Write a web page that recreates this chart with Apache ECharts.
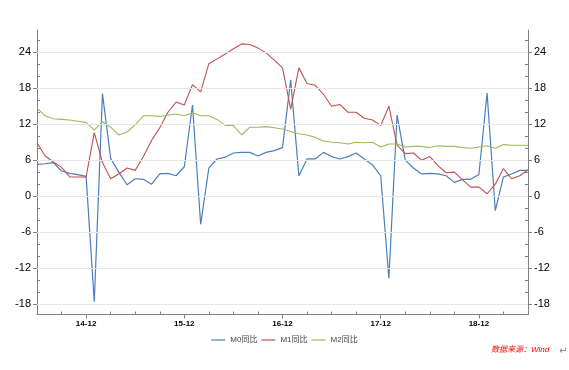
<!DOCTYPE html>
<html><head><meta charset="utf-8">
<script src="https://cdn.jsdelivr.net/npm/echarts@6/dist/echarts.min.js"></script>
<style>html,body{margin:0;padding:0;background:#fff}#c{width:569px;height:370px}</style>
</head><body><div id="c"></div>
<script>
var categories = ['14-06','14-07','14-08','14-09','14-10','14-11','14-12',
'15-01','15-02','15-03','15-04','15-05','15-06','15-07','15-08','15-09','15-10','15-11','15-12',
'16-01','16-02','16-03','16-04','16-05','16-06','16-07','16-08','16-09','16-10','16-11','16-12',
'17-01','17-02','17-03','17-04','17-05','17-06','17-07','17-08','17-09','17-10','17-11','17-12',
'18-01','18-02','18-03','18-04','18-05','18-06','18-07','18-08','18-09','18-10','18-11','18-12',
'19-01','19-02','19-03','19-04','19-05','19-06'];
var m0 = [5.3,5.4,5.6,4.2,3.8,3.6,3.3,
-17.6,17.1,6.3,4.0,1.9,2.9,2.8,2.0,3.7,3.8,3.4,4.9,
15.2,-4.7,4.7,6.2,6.5,7.2,7.3,7.3,6.7,7.3,7.6,8.1,
19.4,3.4,6.2,6.2,7.3,6.6,6.2,6.6,7.2,6.2,5.2,3.4,
-13.7,13.5,6.0,4.7,3.7,3.8,3.7,3.4,2.3,2.8,2.8,3.6,
17.2,-2.4,3.2,3.7,4.3,4.3];
var m1 = [8.9,6.7,5.7,4.8,3.2,3.2,3.2,
10.6,5.6,2.9,3.7,4.7,4.3,6.6,9.3,11.4,14.0,15.7,15.2,
18.6,17.4,22.1,22.9,23.7,24.6,25.4,25.3,24.7,23.9,22.7,21.4,
14.5,21.4,18.8,18.5,17.0,15.0,15.3,14.0,14.0,13.0,12.7,11.8,
15.0,8.5,7.1,7.2,6.0,6.6,5.1,3.9,4.0,2.7,1.5,1.5,
0.4,2.0,4.6,2.9,3.4,4.4];
var m2 = [14.7,13.4,12.9,12.8,12.7,12.5,12.3,
11.0,12.4,11.5,10.2,10.7,11.9,13.4,13.4,13.3,13.5,13.7,13.4,
13.9,13.4,13.4,12.8,11.8,11.8,10.2,11.5,11.5,11.6,11.4,11.2,
10.8,10.4,10.2,9.8,9.2,9.0,8.9,8.7,9.0,8.9,9.0,8.2,
8.7,8.7,8.2,8.3,8.3,8.1,8.4,8.3,8.3,8.1,8.0,8.2,
8.4,8.0,8.6,8.5,8.5,8.5];
var seriesNames = ['M0同比','M1同比','M2同比'];
var yTicks = [-18,-12,-6,0,6,12,18,24];
var yMinorTicks = [-16,-14,-10,-8,-4,-2,2,4,8,10,14,16,20,22,26];
var sourceText = '数据来源：Wind';

var YMIN = -19.75, YMAX = 27.72;
var axisColor = '#808080';
var font = 'Liberation Sans, Noto Sans CJK SC, sans-serif';
function majorX(i){ return i % 12 === 6; }
function minorX(i){ return i % 3 === 0 && i % 12 !== 6; }
function yAx(pos, labels){
  return {
    type:'value', position:pos, min:YMIN, max:YMAX,
    axisLine:{show:labels, onZero:false, lineStyle:{color:axisColor,width:1}},
    axisTick:labels ? {show:true, inside:false, length:4, customValues:yTicks, lineStyle:{color:axisColor}}
                    : {show:true, inside:true, length:3, customValues:yMinorTicks, lineStyle:{color:axisColor}},
    axisLabel:labels ? {show:true, customValues:yTicks, margin:6, fontSize:11, color:'#000', fontFamily:font} : {show:false},
    splitLine:{show:false}
  };
}
var chart = echarts.init(document.getElementById('c'), null, {renderer:'canvas'});
var colors = ['#4a7ebb','#c0504d','#9bbb59'];
chart.setOption({
  animation:false,
  backgroundColor:'#fff',
  grid:{left:37, right:41, top:30, bottom:55.5, outerBoundsMode:'none'},
  legend:{data:seriesNames, left:'center', top:331, icon:'rect', itemWidth:14, itemHeight:1.2, itemGap:4,
    textStyle:{fontSize:8, color:'#404040', fontFamily:font}},
  xAxis:[
    {type:'category', data:categories, boundaryGap:false, position:'bottom',
     axisLine:{onZero:false, lineStyle:{color:axisColor,width:1}},
     axisTick:{show:true, inside:false, length:4, interval:majorX, lineStyle:{color:axisColor}},
     axisLabel:{interval:majorX, margin:5, fontSize:8, fontWeight:'bold', color:'#000', fontFamily:font},
     splitLine:{show:false}},
    {type:'category', data:categories, boundaryGap:false, position:'bottom',
     axisLine:{show:false, onZero:false},
     axisTick:{show:true, inside:true, length:3, interval:minorX, lineStyle:{color:axisColor}},
     axisLabel:{show:false}, splitLine:{show:false}}
  ],
  yAxis:[yAx('left',true), yAx('left',false), yAx('right',true), yAx('right',false)],
  graphic:[
    {type:'text', left:491, top:346, style:{text:sourceText, fill:'#ff0000', font:'italic 8px Liberation Sans, Noto Sans CJK SC'}},
    {type:'text', left:559, top:346, style:{text:'↵', fill:'#808080', font:'10px DejaVu Sans'}}
  ],
  series:[
    {name:'grid', type:'line', data:[], xAxisIndex:0, yAxisIndex:0, z:1, silent:true,
     markLine:{silent:true, symbol:['none','none'], label:{show:false}, animation:false,
       lineStyle:{color:'#e6e6e6', width:1, type:'solid'},
       data:yTicks.map(function(v){return {yAxis:v};})}},
    {name:seriesNames[0], type:'line', data:m0, symbol:'none', xAxisIndex:0, yAxisIndex:0, z:3,
     lineStyle:{color:colors[0], width:1.2}, itemStyle:{color:colors[0]}},
    {name:seriesNames[1], type:'line', data:m1, symbol:'none', xAxisIndex:0, yAxisIndex:0, z:3,
     lineStyle:{color:colors[1], width:1.1}, itemStyle:{color:colors[1]}},
    {name:seriesNames[2], type:'line', data:m2, symbol:'none', xAxisIndex:0, yAxisIndex:0, z:3,
     lineStyle:{color:colors[2], width:1.1}, itemStyle:{color:colors[2]}}
  ]
});
</script></body></html>
